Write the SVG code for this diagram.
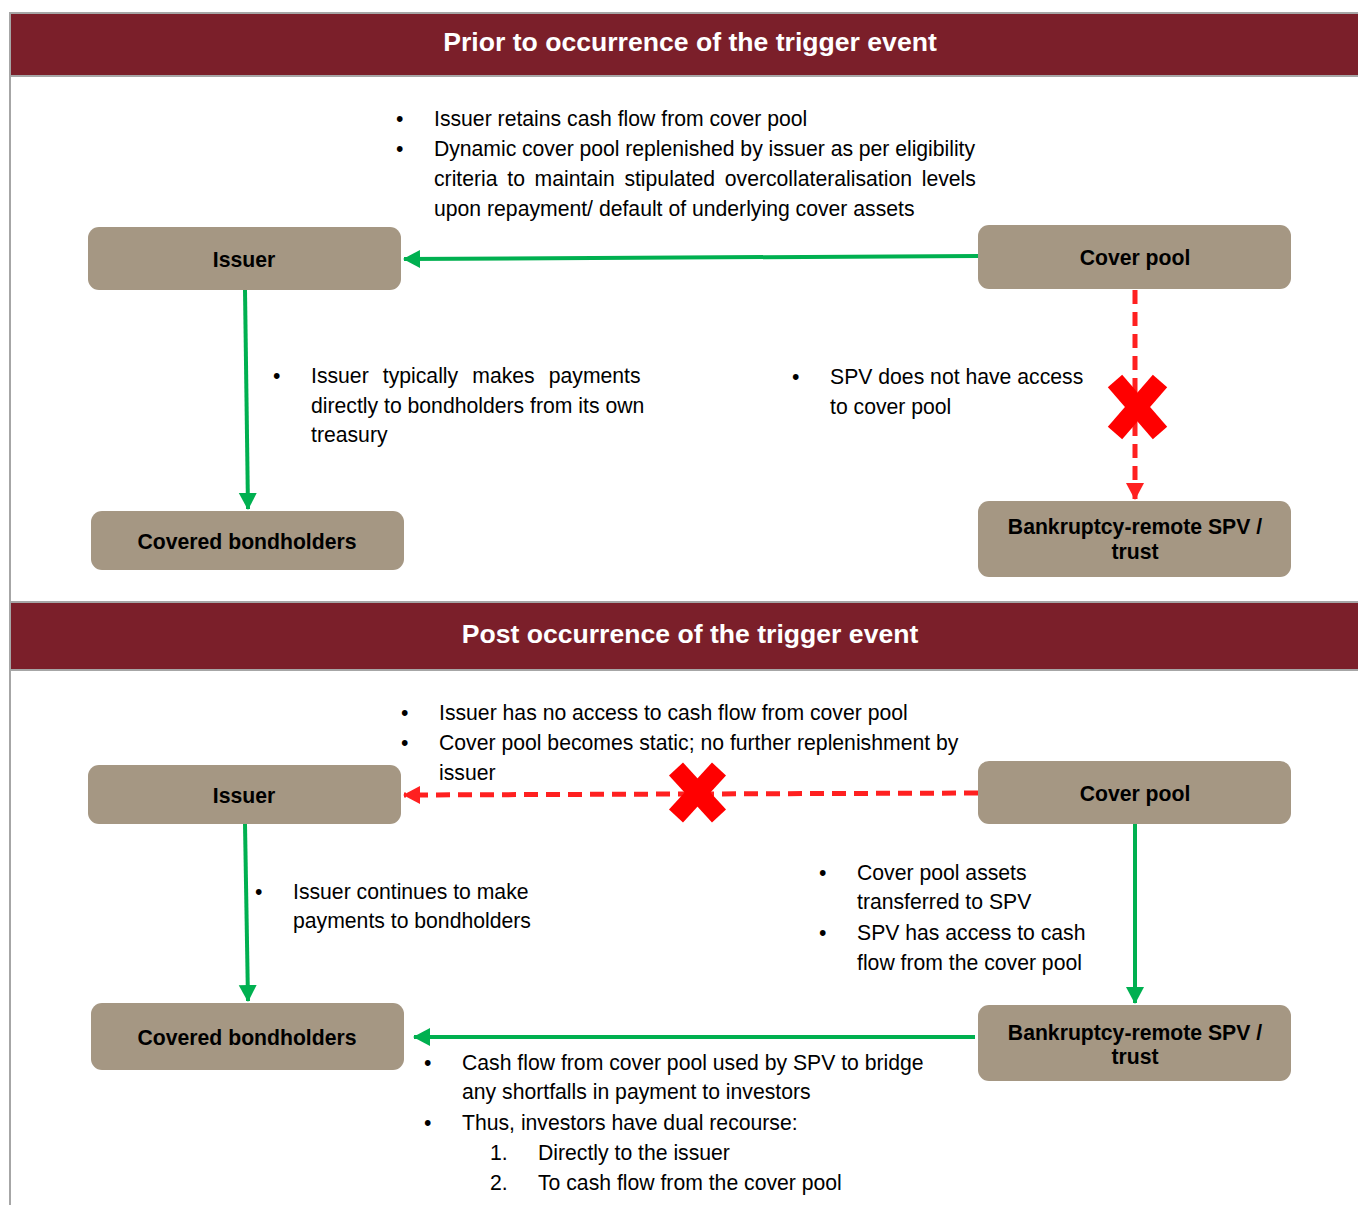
<svg xmlns="http://www.w3.org/2000/svg" width="1358" height="1205" viewBox="0 0 1358 1205">
<style>
.hdr{fill:#7B1F2A;stroke:#A6A6A6;stroke-width:2}
.hdrt{font-family:"Liberation Sans",Arial,sans-serif;font-weight:bold;font-size:26.6px;fill:#FFFFFF;text-anchor:middle}
.node rect{fill:#A59783;stroke:none}
.node text{font-family:"Liberation Sans",Arial,sans-serif;font-weight:bold;font-size:21.2px;fill:#000;text-anchor:middle}
.t{font-family:"Liberation Sans",Arial,sans-serif;font-size:21.2px;fill:#000}
.g{stroke:#00B050;stroke-width:4;fill:none}
.r{stroke:#FF2020;stroke-width:5;fill:none;stroke-dasharray:14 8}
.x{stroke:#FF0000;stroke-width:19;stroke-linecap:butt}
</style>
<defs>
<marker id="ag" markerUnits="userSpaceOnUse" markerWidth="20" markerHeight="20" refX="16" refY="9" orient="auto"><path d="M0,0 L17,9 L0,18 Z" fill="#00B050"/></marker>
<marker id="ar" markerUnits="userSpaceOnUse" markerWidth="20" markerHeight="20" refX="16" refY="9" orient="auto"><path d="M0,0 L17,9 L0,18 Z" fill="#FF2020"/></marker>
</defs>
<rect x="0" y="0" width="1358" height="1205" fill="#FFFFFF"/>
<line x1="10" y1="12" x2="10" y2="1205" stroke="#A6A6A6" stroke-width="2"/>
<g id="header-prior">
<rect class="hdr" x="10" y="13" width="1350" height="63"/>
<text class="hdrt" x="690" y="51">Prior to occurrence of the trigger event</text>
</g>
<g id="header-post">
<rect class="hdr" x="10" y="602" width="1350" height="68"/>
<text class="hdrt" x="690" y="643">Post occurrence of the trigger event</text>
</g>
<g id="connectors">
<path class="g" d="M978,256 L404,259" marker-end="url(#ag)"/>
<path class="g" d="M245,290 L248,509" marker-end="url(#ag)"/>
<path class="r" d="M1135,290 L1135,499" marker-end="url(#ar)"/>
<path class="r" d="M978,793 L404,795" marker-end="url(#ar)"/>
<path class="g" d="M245,824 L248,1001" marker-end="url(#ag)"/>
<path class="g" d="M1135,824 L1135,1003" marker-end="url(#ag)"/>
<path class="g" d="M975,1037 L414,1037" marker-end="url(#ag)"/>
<g id="cross-top">
<line class="x" x1="1115" y1="381" x2="1160" y2="433"/>
<line class="x" x1="1160" y1="381" x2="1115" y2="433"/>
</g>
<g id="cross-bottom">
<line class="x" x1="676" y1="769" x2="719" y2="816"/>
<line class="x" x1="719" y1="769" x2="676" y2="816"/>
</g>
</g>
<g id="issuer-prior" class="node"><rect x="88" y="227" width="313" height="63" rx="11"/><text x="244" y="267">Issuer</text></g>
<g id="coverpool-prior" class="node"><rect x="978" y="225" width="313" height="64" rx="11"/><text x="1135" y="265">Cover pool</text></g>
<g id="bondholders-prior" class="node"><rect x="91" y="511" width="313" height="59" rx="11"/><text x="247" y="549">Covered bondholders</text></g>
<g id="spv-prior" class="node"><rect x="978" y="501" width="313" height="76" rx="11"/><text x="1135" y="534">Bankruptcy-remote SPV /</text><text x="1135" y="559">trust</text></g>
<g id="issuer-post" class="node"><rect x="88" y="765" width="313" height="59" rx="11"/><text x="244" y="803">Issuer</text></g>
<g id="coverpool-post" class="node"><rect x="978" y="761" width="313" height="63" rx="11"/><text x="1135" y="801">Cover pool</text></g>
<g id="bondholders-post" class="node"><rect x="91" y="1003" width="313" height="67" rx="11"/><text x="247" y="1045">Covered bondholders</text></g>
<g id="spv-post" class="node"><rect x="978" y="1005" width="313" height="76" rx="11"/><text x="1135" y="1040">Bankruptcy-remote SPV /</text><text x="1135" y="1064">trust</text></g>
<g id="text-prior-top" class="t">
<text x="396" y="126">•</text><text x="434" y="126">Issuer retains cash flow from cover pool</text>
<text x="396" y="156">•</text><text x="434" y="156" textLength="541" lengthAdjust="spacing">Dynamic cover pool replenished by issuer as per eligibility</text>
<text x="434" y="186" word-spacing="3.8">criteria to maintain stipulated overcollateralisation levels</text>
<text x="434" y="216">upon repayment/ default of underlying cover assets</text>
</g>
<g id="text-prior-left" class="t">
<text x="273" y="383">•</text><text x="311" y="383" word-spacing="8.2">Issuer typically makes payments</text>
<text x="311" y="413">directly to bondholders from its own</text>
<text x="311" y="442">treasury</text>
</g>
<g id="text-prior-right" class="t">
<text x="792" y="384">•</text><text x="830" y="384">SPV does not have access</text>
<text x="830" y="414">to cover pool</text>
</g>
<g id="text-post-top" class="t">
<text x="401" y="720">•</text><text x="439" y="720">Issuer has no access to cash flow from cover pool</text>
<text x="401" y="750">•</text><text x="439" y="750">Cover pool becomes static; no further replenishment by</text>
<text x="439" y="780">issuer</text>
</g>
<g id="text-post-left" class="t">
<text x="255" y="899">•</text><text x="293" y="899">Issuer continues to make</text>
<text x="293" y="928">payments to bondholders</text>
</g>
<g id="text-post-right" class="t">
<text x="819" y="880">•</text><text x="857" y="880">Cover pool assets</text>
<text x="857" y="909">transferred to SPV</text>
<text x="819" y="940">•</text><text x="857" y="940">SPV has access to cash</text>
<text x="857" y="970">flow from the cover pool</text>
</g>
<g id="text-post-bottom" class="t">
<text x="424" y="1070">•</text><text x="462" y="1070">Cash flow from cover pool used by SPV to bridge</text>
<text x="462" y="1099">any shortfalls in payment to investors</text>
<text x="424" y="1130">•</text><text x="462" y="1130">Thus, investors have dual recourse:</text>
<text x="490" y="1160">1.</text><text x="538" y="1160">Directly to the issuer</text>
<text x="490" y="1190">2.</text><text x="538" y="1190">To cash flow from the cover pool</text>
</g>
</svg>
